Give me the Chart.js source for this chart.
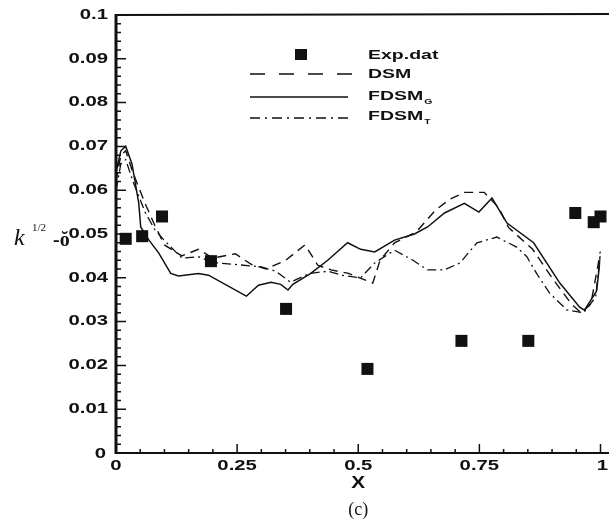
<!DOCTYPE html>
<html>
<head>
<meta charset="utf-8">
<script src="https://cdn.jsdelivr.net/npm/chart.js@4.4.1/dist/chart.umd.min.js"></script>
<style>
  html, body { margin: 0; padding: 0; background: #fff; }
  #wrap { width: 609px; height: 525px; }
</style>
</head>
<body>
<div id="wrap"><canvas id="chart" width="609" height="525"></canvas></div>
<script>
// measured points
const expX = [0.02, 0.054, 0.095, 0.196, 0.351, 0.519, 0.713, 0.851, 0.948, 0.986, 1.0];
const expY = [0.0489, 0.0495, 0.054, 0.0438, 0.0329, 0.0192, 0.0256, 0.0256, 0.0548, 0.0527, 0.054];

// DSM (dashed)
const dsmX = [0, 0.01, 0.02, 0.035, 0.06, 0.08, 0.1, 0.136, 0.17, 0.2, 0.246, 0.28, 0.31, 0.35, 0.39, 0.417, 0.444, 0.48, 0.53, 0.545, 0.575, 0.62, 0.66, 0.69, 0.72, 0.76, 0.79, 0.81, 0.86, 0.9, 0.94, 0.96, 0.98, 1.0];
const dsmY = [0.062, 0.068, 0.069, 0.064, 0.057, 0.052, 0.0475, 0.045, 0.0465, 0.0445, 0.0455, 0.043, 0.042, 0.044, 0.0475, 0.0428, 0.0418, 0.041, 0.0388, 0.044, 0.048, 0.0505, 0.0555, 0.058, 0.0595, 0.0595, 0.056, 0.0515, 0.0465, 0.040, 0.034, 0.032, 0.034, 0.046];

// FDSM_G (solid)
const fdsmGX = [0, 0.01, 0.02, 0.033, 0.047, 0.051, 0.068, 0.088, 0.113, 0.129, 0.17, 0.191, 0.269, 0.294, 0.32, 0.34, 0.355, 0.365, 0.402, 0.437, 0.478, 0.505, 0.534, 0.575, 0.616, 0.643, 0.678, 0.719, 0.749, 0.776, 0.807, 0.862, 0.916, 0.957, 0.967, 0.992, 1.0];
const fdsmGY = [0.064, 0.069, 0.07, 0.066, 0.057, 0.0516, 0.0486, 0.0457, 0.041, 0.0404, 0.041, 0.0406, 0.0358, 0.0383, 0.039, 0.0385, 0.0372, 0.0385, 0.041, 0.044, 0.048, 0.0465, 0.0459, 0.0486, 0.050, 0.0516, 0.0548, 0.057, 0.055, 0.0582, 0.0525, 0.048, 0.0388, 0.0333, 0.0326, 0.037, 0.045];

// FDSM_T (dash-dot)
const fdsmTX = [0, 0.01, 0.02, 0.035, 0.06, 0.08, 0.1, 0.136, 0.17, 0.2, 0.25, 0.3, 0.33, 0.36, 0.4, 0.437, 0.47, 0.505, 0.534, 0.575, 0.613, 0.643, 0.678, 0.71, 0.745, 0.786, 0.827, 0.848, 0.868, 0.895, 0.93, 0.965, 0.99, 1.0];
const fdsmTY = [0.060, 0.066, 0.067, 0.062, 0.055, 0.051, 0.0485, 0.0445, 0.0448, 0.0435, 0.043, 0.0425, 0.0415, 0.039, 0.041, 0.0415, 0.0405, 0.040, 0.0434, 0.0463, 0.044, 0.0418, 0.0418, 0.0434, 0.048, 0.0493, 0.047, 0.0448, 0.041, 0.0365, 0.0327, 0.032, 0.0356, 0.046];

const xTicks = [0, 0.25, 0.5, 0.75, 1];
const xTickLabels = ["0", "0.25", "0.5", "0.75", "1"];
const yTicks = [0, 0.01, 0.02, 0.03, 0.04, 0.05, 0.06, 0.07, 0.08, 0.09, 0.1];
const yTickLabels = ["0", "0.01", "0.02", "0.03", "0.04", "0.05", "0.06", "0.07", "0.08", "0.09", "0.1"];

const ink = "#111";

function pts(xs, ys) {
  return xs.map((x, i) => ({ x: x, y: ys[i] }));
}

// wide bold text like the scanned figure
function wideText(c, txt, x, y, size, align, sx) {
  c.save();
  c.font = "bold " + size + "px 'Liberation Sans', Arial, sans-serif";
  c.textBaseline = "middle";
  const w = c.measureText(txt).width * sx;
  let left = x;
  if (align === "center") left = x - w / 2;
  if (align === "right") left = x - w;
  c.translate(left, y);
  c.scale(sx, 1);
  c.textAlign = "left";
  c.fillText(txt, 0, 0);
  c.restore();
  return w;
}

const framePlugin = {
  id: "frame",
  afterDraw(chart) {
    const c = chart.ctx;
    const a = chart.chartArea;
    const xs = chart.scales.x, ys = chart.scales.y;
    c.save();
    c.strokeStyle = ink;
    c.fillStyle = ink;

    // axis lines
    c.lineWidth = 3;
    c.beginPath();
    c.moveTo(a.left, a.top - 1);
    c.lineTo(a.left, a.bottom + 1);
    c.stroke();
    c.lineWidth = 2;
    c.beginPath();
    c.moveTo(a.left, a.bottom);
    c.lineTo(609, a.bottom);
    c.moveTo(a.left, a.top);
    c.lineTo(609, a.top - 1);
    c.stroke();

    // inward ticks
    c.lineWidth = 1.5;
    c.beginPath();
    for (let i = 0; i <= 50; i++) {
      const v = i * 0.002;
      const py = ys.getPixelForValue(v);
      const len = i % 5 === 0 ? 10 : 5;
      c.moveTo(a.left, py);
      c.lineTo(a.left + len, py);
    }
    for (let i = 0; i <= 20; i++) {
      const v = i * 0.05;
      const px = xs.getPixelForValue(v);
      const len = i % 5 === 0 ? 9 : 4;
      c.moveTo(px, a.bottom);
      c.lineTo(px, a.bottom - len);
    }
    c.stroke();

    // tick labels
    yTicks.forEach((v, i) => {
      const py = ys.getPixelForValue(v);
      if (v === 0) {
        wideText(c, yTickLabels[i], a.left - 10, py + 1, 14, "right", 1.45);
      } else {
        wideText(c, yTickLabels[i], a.left - 8, py, 14, "right", 1.45);
      }
    });
    xTicks.forEach((v, i) => {
      const px = xs.getPixelForValue(v);
      wideText(c, xTickLabels[i], px + (v === 1 ? 2 : 0), a.bottom + 13, 14, "center", 1.45);
    });

    // axis titles
    wideText(c, "X", xs.getPixelForValue(0.5), a.bottom + 31, 16, "center", 1.3);
    c.font = "18px 'Liberation Serif', serif";
    c.textAlign = "center";
    c.textBaseline = "middle";
    c.fillText("(c)", xs.getPixelForValue(0.5), a.bottom + 57);

    c.font = "italic 24px 'Liberation Serif', serif";
    c.textAlign = "left";
    c.textBaseline = "alphabetic";
    c.fillText("k", 14, 245);
    c.font = "11px 'Liberation Serif', serif";
    c.fillText("1/2", 32, 231);
    c.font = "bold 20px 'Liberation Serif', serif";
    c.fillText("-ŏ", 53, 246);

    // legend
    const lx0 = 250, lx1 = 352, tx = 368;
    c.fillRect(295, 49, 12, 11);
    wideText(c, "Exp.dat", tx, 55, 13, "left", 1.5);

    c.lineWidth = 1.5;
    c.setLineDash([15, 14]);
    c.beginPath(); c.moveTo(lx0, 74); c.lineTo(lx1, 74); c.stroke();
    wideText(c, "DSM", tx, 74, 13, "left", 1.5);

    c.setLineDash([]);
    c.beginPath(); c.moveTo(lx0, 97); c.lineTo(lx1 - 4, 97); c.stroke();
    let w = wideText(c, "FDSM", tx, 96, 13, "left", 1.5);
    wideText(c, "G", tx + w + 1, 102, 8, "left", 1.3);

    c.setLineDash([10, 5, 2, 5]);
    c.beginPath(); c.moveTo(lx0, 118); c.lineTo(lx1, 118); c.stroke();
    w = wideText(c, "FDSM", tx, 116, 13, "left", 1.5);
    wideText(c, "T", tx + w + 1, 122, 8, "left", 1.3);
    c.restore();
  }
};

const ctx = document.getElementById("chart").getContext("2d");
const chart = new Chart(ctx, {
  type: "scatter",
  data: {
    datasets: [
      {
        label: "DSM",
        data: pts(dsmX, dsmY),
        showLine: true,
        borderColor: ink,
        borderWidth: 1.4,
        borderDash: [9, 6],
        pointRadius: 0,
        tension: 0
      },
      {
        label: "FDSM_G",
        data: pts(fdsmGX, fdsmGY),
        showLine: true,
        borderColor: ink,
        borderWidth: 1.5,
        pointRadius: 0,
        tension: 0
      },
      {
        label: "FDSM_T",
        data: pts(fdsmTX, fdsmTY),
        showLine: true,
        borderColor: ink,
        borderWidth: 1.3,
        borderDash: [9, 4, 2, 4],
        pointRadius: 0,
        tension: 0
      },
      {
        label: "Exp.dat",
        data: pts(expX, expY),
        showLine: false,
        pointStyle: "rect",
        pointRadius: 8.5,
        backgroundColor: ink,
        borderColor: ink,
        borderWidth: 0,
        clip: false
      }
    ]
  },
  options: {
    responsive: false,
    animation: false,
    layout: { padding: { left: 116, right: 5, top: 15, bottom: 72 } },
    plugins: {
      legend: { display: false },
      tooltip: { enabled: false }
    },
    scales: {
      x: { type: "linear", min: 0, max: 1, display: false },
      y: { type: "linear", min: 0, max: 0.1, display: false }
    }
  },
  plugins: [framePlugin]
});
</script>
</body>
</html>
